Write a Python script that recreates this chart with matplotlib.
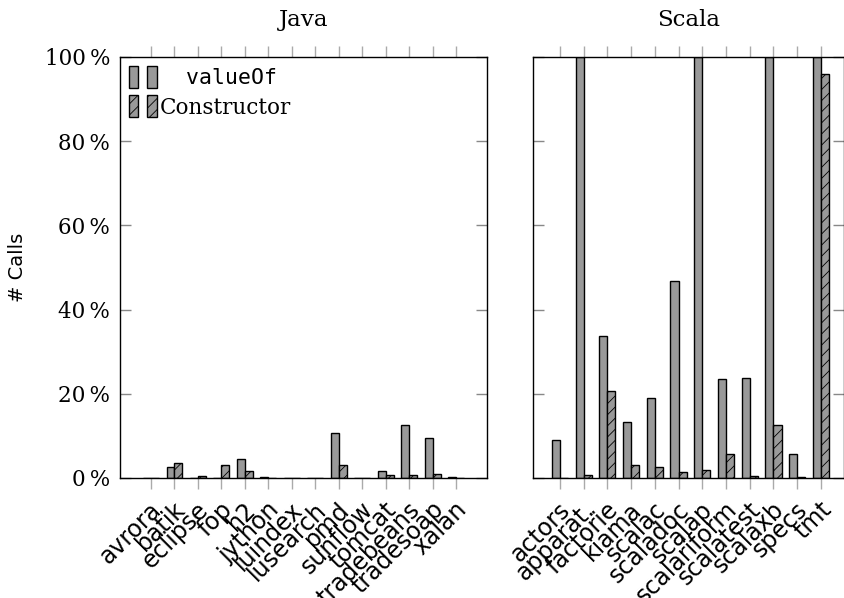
import numpy as np
import matplotlib
matplotlib.use("Agg")
import matplotlib.pyplot as plt
from matplotlib.patches import Rectangle
from matplotlib.legend_handler import HandlerTuple
from matplotlib.transforms import ScaledTranslation

# values in percent of calls
java_names = ['avrora', 'batik', 'eclipse', 'fop', 'h2', 'jython', 'luindex',
              'lusearch', 'pmd', 'sunflow', 'tomcat', 'tradebeans', 'tradesoap', 'xalan']
java_valueof = [0.1, 2.6, 0.1, 0.1, 4.4, 0.25, 0.1, 0.1, 10.7, 0.1, 1.6, 12.7, 9.5, 0.2]
java_ctor = [0.1, 3.6, 0.5, 3.2, 1.7, 0.1, 0.1, 0.1, 3.0, 0.1, 0.7, 0.7, 0.95, 0.1]

scala_names = ['actors', 'apparat.', 'factorie', 'kiama', 'scalac', 'scaladoc', 'scalap',
               'scalariform', 'scalatest', 'scalaxb', 'specs', 'tmt']
scala_valueof = [9.0, 100, 33.7, 13.2, 18.9, 46.8, 100, 23.5, 23.8, 100, 5.6, 100]
scala_ctor = [0.1, 0.6, 20.7, 3.2, 2.7, 1.5, 2.0, 5.8, 0.5, 12.7, 0.3, 96.0]

plt.rcParams['hatch.linewidth'] = 0.6
plt.rcParams['hatch.color'] = 'black'
serif = 'DejaVu Serif'

fig = plt.figure(figsize=(8.45, 5.98), dpi=100)
ax1 = fig.add_axes([0.142, 0.2007, 0.434, 0.704])
ax2 = fig.add_axes([0.6308, 0.2007, 0.3677, 0.704])

w = 0.34
gray = '#999999'
shift = ScaledTranslation(5 / 72, 0, fig.dpi_scale_trans)


def draw(ax, names, v1, v2, xlim, title):
    x = np.arange(len(names))
    b1 = ax.bar(x - w / 2, v1, w, color=gray, edgecolor='black', linewidth=1.0)
    b2 = ax.bar(x + w / 2, v2, w, color=gray, edgecolor='black', linewidth=1.0,
                hatch='///')
    ax.set_xlim(*xlim)
    ax.set_ylim(0, 100)
    ax.set_xticks(x)
    ax.set_xticklabels(names, rotation=45, ha='right', va='center',
                       rotation_mode='anchor', fontsize=17, family='DejaVu Sans')
    ax.tick_params(axis='x', which='both', direction='out', length=8, width=1,
                   color='#aaaaaa', top=True, pad=12)
    ax.tick_params(axis='y', direction='in', length=8, width=1, color='#888888',
                   right=True, pad=7)
    for lbl in ax.get_xticklabels():
        lbl.set_transform(lbl.get_transform() + shift)
    ax.set_yticks([0, 20, 40, 60, 80, 100])
    for s in ax.spines.values():
        s.set_linewidth(1.0)
    ax.set_title(title, fontsize=16.5, family=serif, pad=22)
    return b1, b2


b1, b2 = draw(ax1, java_names, java_valueof, java_ctor, (-1.32, 14.29), 'Java')
draw(ax2, scala_names, scala_valueof, scala_ctor, (-1.13, 11.96), 'Scala')

ax1.set_yticklabels([f'{v}\u2009%' for v in [0, 20, 40, 60, 80, 100]],
                    fontsize=15.5, family=serif)
ax2.set_yticklabels([])
ax1.set_ylabel('# Calls', fontsize=14, family='DejaVu Sans')
ax1.yaxis.set_label_coords(-0.253, 0.5)

h1 = (Rectangle((0, 0), 1, 1, facecolor=gray, edgecolor='black'),
      Rectangle((0, 0), 1, 1, facecolor=gray, edgecolor='black'))
h2 = (Rectangle((0, 0), 1, 1, facecolor=gray, edgecolor='black', hatch='///'),
      Rectangle((0, 0), 1, 1, facecolor=gray, edgecolor='black', hatch='///'))
leg = ax1.legend([h1, h2], ['  valueOf', 'Constructor'],
                 handler_map={tuple: HandlerTuple(ndivide=None, pad=0.4)},
                 loc='upper left', frameon=False, fontsize=15.5,
                 handlelength=1.3, handleheight=1.2, handletextpad=0.15,
                 borderaxespad=0.2, borderpad=0.2, labelspacing=0.35)
leg.get_texts()[0].set_family('DejaVu Sans Mono')
leg.get_texts()[1].set_family(serif)

fig.savefig('out.png', dpi=100)
